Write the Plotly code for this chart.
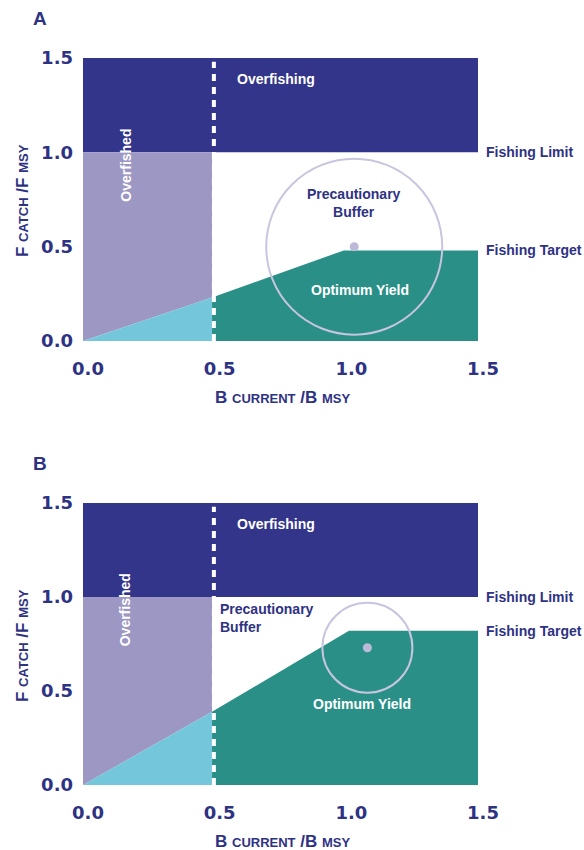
import plotly.graph_objects as go
from plotly.subplots import make_subplots

# ---- data ----
tick_vals = [0.0, 0.5, 1.0, 1.5]
tick_text = ["0.0", "0.5", "1.0", "1.5"]
x_max = 1.5
y_max = 1.5
fishing_limit = 1.0
biomass_boundary = 0.49
dash_x = 0.497

# panel A
a_boundary_y = 0.23
a_kink_x = 0.99
a_target = 0.48
a_center = (1.03, 0.5)
a_radius_px = 88

# panel B
b_boundary_y = 0.39
b_kink_x = 1.01
b_target = 0.82
b_center = (1.08, 0.73)
b_radius_px = 45

NAVY = "#33358A"
PURPLE = "#9D97C3"
LBLUE = "#74C6DA"
TEAL = "#2A9087"
CIRCLE = "#C8C5DF"
DOT = "#BDB9D8"
TXT = "#2E3283"

fig = make_subplots(rows=2, cols=1, vertical_spacing=0.0)

def poly(xs, ys, color, row):
    fig.add_trace(go.Scatter(x=xs + [xs[0]], y=ys + [ys[0]], fill="toself", fillcolor=color,
                             mode="lines", line=dict(width=0), hoverinfo="skip", showlegend=False),
                  row=row, col=1)

def panel(row, by, kx, tgt, center, rpx, labels):
    poly([0, x_max, x_max, 0], [fishing_limit, fishing_limit, y_max, y_max], NAVY, row)
    poly([0, biomass_boundary, biomass_boundary, 0], [0, by, fishing_limit, fishing_limit], PURPLE, row)
    poly([0, biomass_boundary, biomass_boundary], [0, 0, by], LBLUE, row)
    poly([biomass_boundary, biomass_boundary, kx, x_max, x_max], [0, by, tgt, tgt, 0], TEAL, row)
    xr = "x" if row == 1 else "x2"
    yr = "y" if row == 1 else "y2"
    fig.add_shape(type="line", xref=xr, yref=yr, x0=dash_x, x1=dash_x, y0=0, y1=y_max - 0.02,
                  line=dict(color="white", width=4, dash="7px,6px"), layer="above")
    fig.add_shape(type="circle", xref=xr, yref=yr, xsizemode="pixel", ysizemode="pixel",
                  xanchor=center[0], yanchor=center[1], x0=-rpx, x1=rpx, y0=-rpx, y1=rpx,
                  line=dict(color=CIRCLE, width=2), layer="above")
    fig.add_trace(go.Scatter(x=[center[0]], y=[center[1]], mode="markers",
                             marker=dict(color=DOT, size=9), hoverinfo="skip", showlegend=False),
                  row=row, col=1)
    for (txt, x, y, color, xanchor, angle) in labels:
        fig.add_annotation(xref=xr, yref=yr, x=x, y=y, text=txt, showarrow=False,
                           xanchor=xanchor, textangle=angle, align="left" if xanchor == "left" else "center",
                           font=dict(family="Liberation Sans", size=14, color=color, weight="bold"))
    for txt, y in [("Fishing Limit", fishing_limit), ("Fishing Target", tgt)]:
        fig.add_annotation(xref=xr, yref=yr, x=x_max, y=y, text=txt, showarrow=False, xanchor="left",
                           xshift=6, font=dict(family="Liberation Sans", size=14, color=TXT, weight="bold"))

panel(1, a_boundary_y, a_kink_x, a_target, a_center, a_radius_px, [
    ("Overfishing", 0.734, 1.39, "white", "center", 0),
    ("Overfished", 0.16, 0.93, "white", "center", -90),
    ("Precautionary<br>Buffer", 1.03, 0.73, TXT, "center", 0),
    ("Optimum Yield", 1.05, 0.27, "white", "center", 0),
])
panel(2, b_boundary_y, b_kink_x, b_target, b_center, b_radius_px, [
    ("Overfishing", 0.734, 1.39, "white", "center", 0),
    ("Overfished", 0.16, 0.93, "white", "center", -90),
    ("Precautionary<br>Buffer", 0.513, 0.89, TXT, "left", 0),
    ("Optimum Yield", 1.06, 0.43, "white", "center", 0),
])

axis_font = dict(family="DejaVu Sans", size=18, color=TXT, weight="bold")
for r in (1, 2):
    fig.update_xaxes(range=[0, x_max], tickvals=tick_vals, ticktext=tick_text, showgrid=False,
                     zeroline=False, showline=False, ticks="", tickfont=axis_font,
                     ticklabelshift=5, ticklabelstandoff=15, row=r, col=1)
    fig.update_yaxes(range=[0, y_max], tickvals=tick_vals, ticktext=tick_text, showgrid=False,
                     zeroline=False, showline=False, ticks="", tickfont=axis_font,
                     ticklabelstandoff=9, row=r, col=1)

fig.update_layout(yaxis=dict(domain=[0.6107, 1.0]), yaxis2=dict(domain=[0.0, 0.3879]))

ytitle = "F <span style='font-size:13px'>CATCH</span> /F <span style='font-size:13px'>MSY</span>"
xtitle = "B <span style='font-size:13px'>CURRENT</span> /B <span style='font-size:13px'>MSY</span>"
title_font = dict(family="Liberation Sans", size=17, color=TXT, weight="bold")
PW = 584 - 83 - 106
for (letter, ly, ty, tx_y) in [("A", 18, 201, 397), ("B", 463, 646, 841)]:
    fig.add_annotation(xref="paper", yref="paper", x=(40 - 83) / PW,
                       y=1 - (ly - 58) / 727, text=letter, showarrow=False,
                       xanchor="center", yanchor="middle",
                       font=dict(family="Liberation Sans", size=19, color=TXT, weight="bold"))
    fig.add_annotation(xref="paper", yref="paper", x=(22 - 83) / PW,
                       y=1 - (ty - 58) / 727, text=ytitle, textangle=-90, showarrow=False,
                       xanchor="center", yanchor="middle", font=title_font)
    fig.add_annotation(xref="paper", yref="paper", x=(283 - 83) / PW,
                       y=1 - (tx_y - 58) / 727, text=xtitle, showarrow=False,
                       xanchor="center", yanchor="middle", font=title_font)

fig.update_layout(width=584, height=850, margin=dict(l=83, r=106, t=58, b=65),
                  plot_bgcolor="white", paper_bgcolor="white", showlegend=False)

fig.write_html("out.html", config={"displayModeBar": False},
               post_script="document.body.style.margin='0';")
